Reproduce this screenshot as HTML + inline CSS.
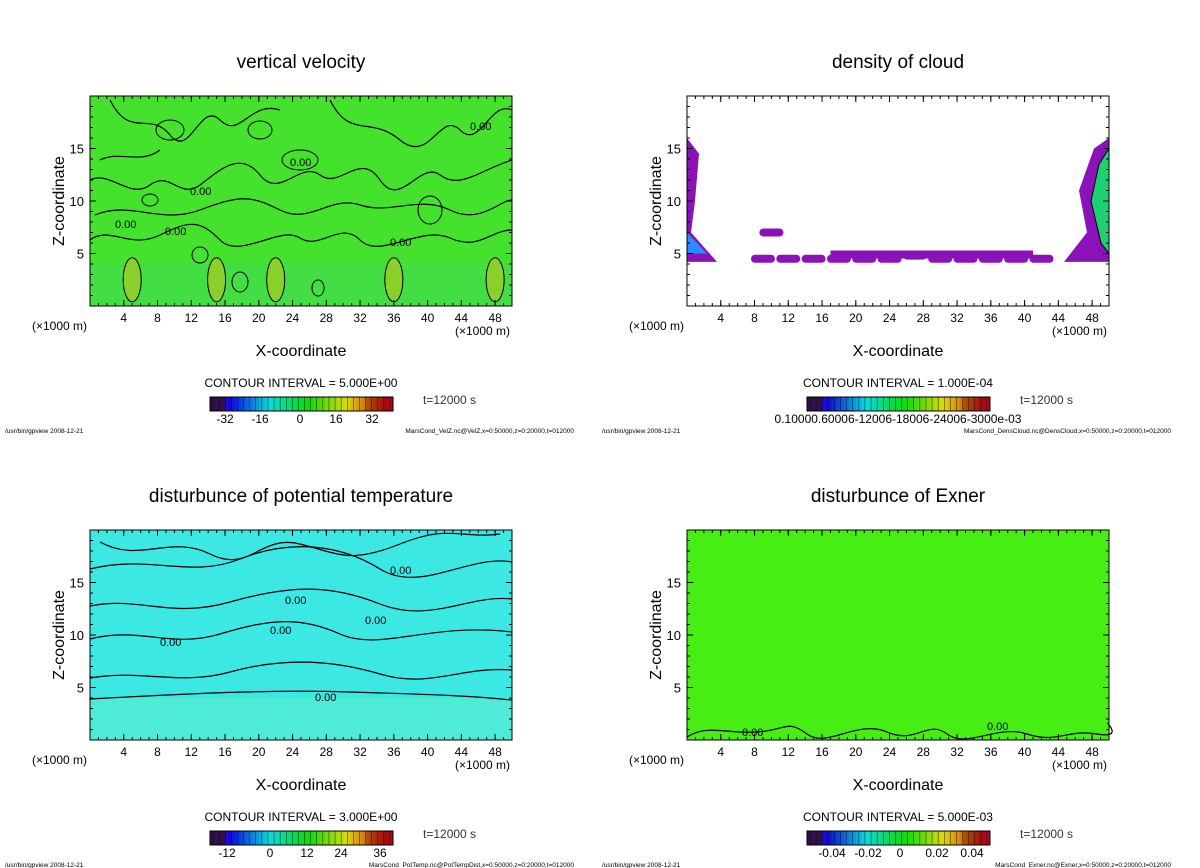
<!DOCTYPE html>
<html><head><meta charset="utf-8"><style>
body{margin:0;background:#fff}
svg{display:block;font-family:"Liberation Sans",sans-serif}
</style></head><body>
<svg id="s" width="1200" height="868" viewBox="0 0 1200 868"></svg>
<script>
const xTicks=[4,8,12,16,20,24,28,32,36,40,44,48];
const zTicks=[5,10,15];
const panels=[
 {ox:0,oy:0,title:"vertical velocity",fill:"#44e22c",ci:"CONTOUR INTERVAL = 5.000E+00",cb:["-32","-16","0","16","32"],cbx:[225,260,300,336,372],file:"MarsCond_VelZ.nc@VelZ,x=0:50000,z=0:20000,t=012000",name:"vertical-velocity"},
 {ox:597,oy:0,title:"density of cloud",fill:"#ffffff",ci:"CONTOUR INTERVAL = 1.000E-04",cb:["0.10000.60006-12006-18006-24006-3000e-03"],cbx:[301],file:"MarsCond_DensCloud.nc@DensCloud,x=0:50000,z=0:20000,t=012000",name:"density-of-cloud"},
 {ox:0,oy:434,title:"disturbunce of potential temperature",fill:"#3ce8e4",ci:"CONTOUR INTERVAL = 3.000E+00",cb:["-12","0","12","24","36"],cbx:[227,270,307,341,380],file:"MarsCond_PotTemp.nc@PotTempDist,x=0:50000,z=0:20000,t=012000",name:"potential-temperature"},
 {ox:597,oy:434,title:"disturbunce of Exner",fill:"#46ee14",ci:"CONTOUR INTERVAL = 5.000E-03",cb:["-0.04","-0.02","0","0.02","0.04"],cbx:[235,271,303,340,375],file:"MarsCond_Exner.nc@Exner,x=0:50000,z=0:20000,t=012000",name:"exner"}
];
const S=document.getElementById('s');const NS="http://www.w3.org/2000/svg";
function el(t,a,txt,p){const e=document.createElementNS(NS,t);for(const k in a)e.setAttribute(k,a[k]);if(txt!=null)e.textContent=txt;(p||S).appendChild(e);return e;}
function rainbow(t){if(t<0.08)return '#30104a';const h=270-t*280;return `hsl(${(h+360)%360},90%,${t>0.85?35:45}%)`;}
panels.forEach((P,pi)=>{
 const g=el('g',{transform:`translate(${P.ox},${P.oy})`});
 
 
 const X0=90,X1=512,Y0=96,Y1=306;
 const sx=v=>X0+v/50*(X1-X0), sz=v=>Y1-v/20*(Y1-Y0);
 const t=el('text',{x:301,y:68,'font-size':19,'text-anchor':'middle'},P.title,g);
 
 const r=el('rect',{x:X0,y:Y0,width:X1-X0,height:Y1-Y0,fill:P.fill},null,g);
 
 if(pi==0){
  el('rect',{x:X0,y:sz(4),width:X1-X0,height:sz(0)-sz(4),fill:'#40d870',opacity:0.35},null,g);
  [[5,2.5],[15,2.5],[22,2.5],[36,2.5],[48,2.5]].forEach(c=>el('ellipse',{cx:sx(c[0]),cy:sz(c[1]),rx:9,ry:22,fill:'#8ad02a',stroke:'#000','stroke-width':1},null,g));
  const paths=["M90,180 C110,170 130,200 150,185 C170,170 180,200 200,185 S240,150 260,175 S300,160 320,175 S360,150 380,180 S420,160 440,175 S480,170 512,160","M90,240 C110,225 130,250 160,235 S200,220 220,240 S280,225 300,238 S340,220 360,240 S420,225 450,238 S490,230 512,230","M110,100 C130,140 150,110 170,135 S200,100 220,120 S250,100 280,110","M330,100 C350,140 370,115 400,140 S440,110 460,130 S490,100 512,110","M95,215 C130,200 160,225 200,210 S250,195 280,210 S330,195 360,205 S420,195 450,210 S500,200 512,200","M100,160 C120,150 140,165 160,150"];
  paths.forEach(d=>el('path',{d,fill:'none',stroke:'#000','stroke-width':1.2},null,g));
  [[170,130,14,10],[260,130,12,9],[430,210,12,14],[300,160,18,10],[200,255,8,8],[240,282,8,10],[318,288,6,8],[150,200,8,6]].forEach(c=>el('ellipse',{cx:c[0],cy:c[1],rx:c[2],ry:c[3],fill:'none',stroke:'#000'},null,g));
  [[290,166],[190,195],[115,228],[165,235],[390,246],[470,130]].forEach(p=>el('text',{x:p[0],y:p[1],'font-size':11},"0.00",g));
 }
 if(pi==1){
  const pts=[[9,4.5],[12,4.5],[15,4.5],[18,4.5],[21,4.5],[24,4.5],[27,4.8],[30,4.5],[33,4.5],[36,4.5],[39,4.5],[42,4.5],[10,7]];
  pts.forEach(p=>el('rect',{x:sx(p[0])-12,y:sz(p[1])-4,width:24,height:8,rx:4,fill:'#8a12b8'},null,g));
  el('rect',{x:sx(17),y:sz(5)-3,width:sx(41)-sx(17),height:8,fill:'#8a12b8'},null,g);
  el('path',{d:`M${X0},${sz(16)} L${X0+12},${sz(14.5)} L${X0+8},${sz(10)} L${X0+4},${sz(7)} L${X0+30},${sz(4.2)} L${X0},${sz(4.2)}Z`,fill:'#8a12b8'},null,g);
  el('path',{d:`M${X0},${sz(7)} L${X0+20},${sz(5)} L${X0},${sz(5)}Z`,fill:'#2a8cff'},null,g);
  el('path',{d:`M${X1},${sz(16)} L${X1-15},${sz(15)} L${X1-30},${sz(11)} L${X1-22},${sz(7)} L${X1-45},${sz(4.2)} L${X1},${sz(4.2)}Z`,fill:'#8a12b8'},null,g);
  el('path',{d:`M${X1},${sz(15)} L${X1-10},${sz(13.5)} L${X1-18},${sz(10)} L${X1-8},${sz(6)} L${X1},${sz(5)}Z`,fill:'#1ed070',stroke:'#000'},null,g);
 }
 if(pi==2){
  el('rect',{x:X0,y:sz(4),width:X1-X0,height:sz(0)-sz(4),fill:'#60f0c8',opacity:0.5},null,g);
  const paths=["M90,265 C150,262 250,255 350,258 S470,262 512,266","M90,244 C140,235 180,252 230,238 S330,225 380,240 S460,232 512,236","M90,205 C140,192 170,215 220,200 S300,182 340,200 S430,188 512,198","M90,172 C140,162 170,185 230,168 S330,150 380,170 S470,160 512,165","M90,135 C150,120 190,145 240,125 S340,110 380,135 S470,120 512,128","M100,108 C140,130 170,100 210,120 S260,100 300,110 S350,130 400,110 S460,105 500,100"];
  paths.forEach(d=>el('path',{d,fill:'none',stroke:'#000','stroke-width':1.2},null,g));
  [[315,267],[160,212],[270,200],[365,190],[390,140],[285,170]].forEach(p=>el('text',{x:p[0],y:p[1],'font-size':11},"0.00",g));
 }
 if(pi==3){
  el('path',{d:"M90,303 C110,290 130,300 160,298 S190,285 210,300 S260,285 290,298 S330,285 350,300 S400,290 430,300 S470,295 500,300 S505,285 512,290",fill:'none',stroke:'#000','stroke-width':1.2},null,g);
  [[145,302],[390,296]].forEach(p=>el('text',{x:p[0],y:p[1],'font-size':11},"0.00",g));
 }
 el('rect',{x:X0,y:Y0,width:X1-X0,height:Y1-Y0,fill:'none',stroke:'#000','stroke-width':1},null,g);
 xTicks.forEach(v=>{
  el('line',{x1:sx(v),x2:sx(v),y1:Y1,y2:Y1-6,stroke:'#000'},null,g);
  el('line',{x1:sx(v),x2:sx(v),y1:Y0,y2:Y0+6,stroke:'#000'},null,g);
  const tl=el('text',{x:sx(v),y:322,'font-size':12,'text-anchor':'middle'},String(v),g);
  
 });
 for(let v=1;v<50;v++){el('line',{x1:sx(v),x2:sx(v),y1:Y1,y2:Y1-3,stroke:'#000'},null,g);el('line',{x1:sx(v),x2:sx(v),y1:Y0,y2:Y0+3,stroke:'#000'},null,g);}
 zTicks.forEach(v=>{
  el('line',{x1:X0,x2:X0+6,y1:sz(v),y2:sz(v),stroke:'#000'},null,g);
  el('line',{x1:X1,x2:X1-6,y1:sz(v),y2:sz(v),stroke:'#000'},null,g);
  const tl=el('text',{x:X0-6,y:sz(v)+5,'font-size':13,'text-anchor':'end'},String(v),g);
  
 });
 for(let v=1;v<20;v++){el('line',{x1:X0,x2:X0+3,y1:sz(v),y2:sz(v),stroke:'#000'},null,g);el('line',{x1:X1,x2:X1-3,y1:sz(v),y2:sz(v),stroke:'#000'},null,g);}
 el('text',{x:32,y:330,'font-size':12},"(×1000 m)",g);
 el('text',{x:455,y:335,'font-size':12},"(×1000 m)",g);
 const xt=el('text',{x:301,y:356,'font-size':16,'text-anchor':'middle'},"X-coordinate",g);
 
 const yt=el('text',{x:0,y:0,'font-size':16,'text-anchor':'middle',transform:`translate(64,201) rotate(-90)`},"Z-coordinate",g);
 
 el('text',{x:301,y:387,'font-size':12,'text-anchor':'middle'},P.ci,g);
 const cb=el('g',{},null,g);
 
 const N=60;for(let i=0;i<N;i++){el('rect',{x:210+i*183/N,y:397,width:183/N+0.3,height:14,fill:rainbow(i/(N-1))},null,cb);if(i%2)el('line',{x1:210+i*183/N,x2:210+i*183/N,y1:397,y2:411,stroke:'#000','stroke-width':0.4},null,cb);}
 el('rect',{x:210,y:397,width:183,height:14,fill:'none',stroke:'#000'},null,cb);
 P.cb.forEach((l,i)=>el('text',{x:P.cbx[i],y:423,'font-size':12,'text-anchor':'middle'},l,g));
 el('text',{x:423,y:404,'font-size':12,fill:'#333'},"t=12000 s",g);
 el('text',{x:5,y:433,'font-size':6.5},"/usr/bin/gpview   2008-12-21",g);
 el('text',{x:574,y:433,'font-size':6.5,'text-anchor':'end'},P.file,g);
});
</script>
</body></html>
